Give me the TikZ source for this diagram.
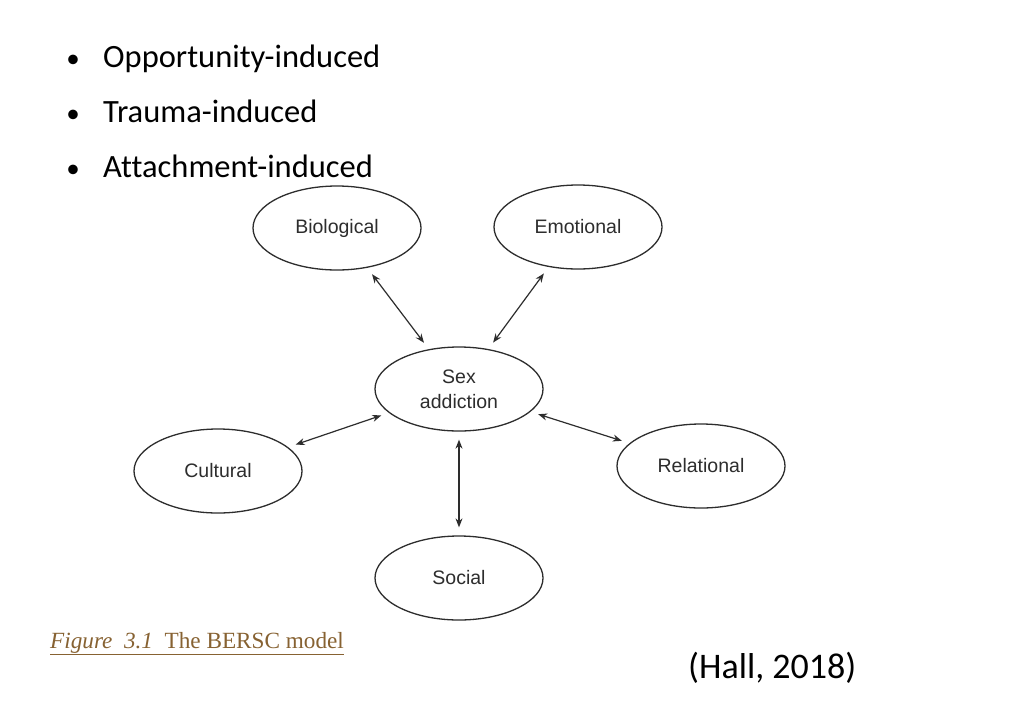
\documentclass[tikz,border=0pt]{standalone}
\usepackage{fontspec}
\setmainfont{Carlito}[Ligatures=CommonOff]
\newfontfamily\diagfont{Liberation Sans}
\newfontfamily\capfont{Liberation Serif}
\usetikzlibrary{shapes.geometric,arrows.meta}
\definecolor{capbrown}{RGB}{135,98,50}
\definecolor{inkgray}{RGB}{45,45,45}
\def\bulletitem(#1,#2,#3){
  \node[anchor=base, inner sep=0pt] (#1_b) at (73,#2) {\fontsize{27}{30}\selectfont\textbullet};
  \node[anchor=base west, inner sep=0pt] (#1) at (103,#2) {\fontsize{32.5}{36}\selectfont #3};
}

\begin{document}
\begin{tikzpicture}[x=1pt, y=-1pt,
  factor/.style={draw=inkgray, line width=1.3pt, ellipse, minimum width=168pt, minimum height=84pt, inner sep=0pt, text=inkgray, font=\diagfont\fontsize{19.5}{25}\selectfont, align=center},
  link/.style={{Stealth[length=9pt,width=7pt]}-{Stealth[length=9pt,width=7pt]}, line width=1.2pt, draw=inkgray, shorten <=8pt, shorten >=8pt}]
\useasboundingbox (0,0) rectangle (1024,726);
\fill[white] (0,0) rectangle (1024,726);
% bullet list
\bulletitem(opp,67,Opportunity-induced)
\bulletitem(trauma,122,Trauma-induced)
\bulletitem(attach,177,Attachment-induced)
% BERSC model
\node[factor] (sex) at (459,389) {Sex\\addiction};
\node[factor] (bio) at (337,228) {Biological};
\node[factor] (emo) at (578,227) {Emotional};
\node[factor] (cult) at (218,471) {Cultural};
\node[factor] (rel) at (701,466) {Relational};
\node[factor] (soc) at (459,578) {Social};
\draw[link] (bio) -- (sex);
\draw[link] (emo) -- (sex);
\draw[link] (cult) -- (sex);
\draw[link] (rel) -- (sex);
\draw[link] (soc) -- (sex);
% caption and source
\node[anchor=base west, inner sep=0pt, text=capbrown] (caption) at (50,648) {\capfont\fontsize{23.2}{26}\selectfont\underline{\textit{Figure\ \ 3.1}\ \ The BERSC model}};
\node[anchor=base west, inner sep=0pt] (source) at (688,678) {\fontsize{36}{40}\selectfont (Hall, 2018)};
\end{tikzpicture}
\end{document}
